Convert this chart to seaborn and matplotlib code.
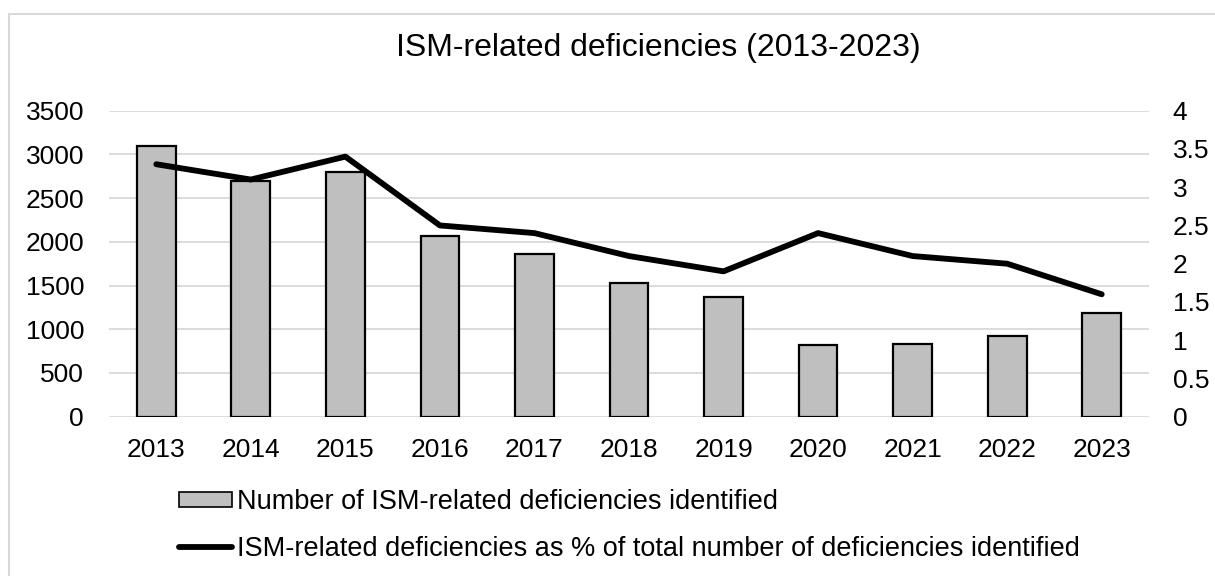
import matplotlib
matplotlib.use("Agg")
import matplotlib.pyplot as plt
from matplotlib.lines import Line2D
from matplotlib.patches import Patch
import seaborn as sns
import pandas as pd

# ISM-related deficiencies per year
years = ["2013", "2014", "2015", "2016", "2017", "2018",
         "2019", "2020", "2021", "2022", "2023"]
deficiency_counts = [3100, 2700, 2800, 2070, 1860, 1530, 1370, 825, 830, 925, 1190]
share_of_total_pct = [3.3, 3.1, 3.4, 2.5, 2.4, 2.1, 1.9, 2.4, 2.1, 2.0, 1.6]

left_ticks = [0, 500, 1000, 1500, 2000, 2500, 3000, 3500]
right_ticks = [0, 0.5, 1, 1.5, 2, 2.5, 3, 3.5, 4]
right_tick_labels = ["0", "0.5", "1", "1.5", "2", "2.5", "3", "3.5", "4"]

title = "ISM-related deficiencies (2013-2023)"
bar_label = "Number of ISM-related deficiencies identified"
line_label = "ISM-related deficiencies as % of total number of deficiencies identified"

df = pd.DataFrame({"year": years, "count": deficiency_counts, "pct": share_of_total_pct})

sns.set_theme(style="white")
plt.rcParams["font.family"] = ["Liberation Sans", "DejaVu Sans"]
plt.rcParams["text.color"] = "black"

W, H = 1215, 576
fig = plt.figure(figsize=(W / 100, H / 100), dpi=100)
ax = fig.add_axes([109 / W, 1 - 416.7 / H, (1149 - 109) / W, (416.7 - 110.7) / H])

grid_c = "#D9D9D9"
bar_c = "#BFBFBF"
tick_fs = 19

sns.barplot(data=df, x="year", y="count", ax=ax, color=bar_c, width=0.41,
            edgecolor="black", linewidth=1.6, saturation=1, zorder=3)
ax.set_ylim(0, 3500)
ax.set_xlim(-0.5, len(years) - 0.5)
ax.set_yticks(left_ticks)
ax.set_yticklabels([str(t) for t in left_ticks])
ax.yaxis.grid(True, color=grid_c, linewidth=1.3, zorder=0)
ax.set_axisbelow(True)
for s in ax.spines.values():
    s.set_visible(False)
ax.set_xlabel("")
ax.set_ylabel("")
ax.tick_params(axis="y", length=0, pad=18, labelsize=tick_fs, labelcolor="black")
ax.tick_params(axis="x", length=0, pad=15, labelsize=tick_fs, labelcolor="black")

ax2 = ax.twinx()
sns.lineplot(data=df, x="year", y="pct", ax=ax2, color="black", linewidth=4.2,
             sort=False, zorder=4)
for ln in ax2.lines:
    ln.set_solid_capstyle("round")
    ln.set_solid_joinstyle("round")
ax2.set_ylim(0, 4)
ax2.set_xlim(-0.5, len(years) - 0.5)
ax2.set_yticks(right_ticks)
ax2.set_yticklabels(right_tick_labels)
ax2.grid(False)
for s in ax2.spines.values():
    s.set_visible(False)
ax2.set_xlabel("")
ax2.set_ylabel("")
ax2.tick_params(axis="y", length=0, pad=17, labelsize=tick_fs, labelcolor="black")

fig.text(658 / W, 1 - 48 / H, title, ha="center", va="center", fontsize=23, color="black")

handles = [Patch(facecolor=bar_c, edgecolor="black", linewidth=1.2),
           Line2D([0], [0], color="black", linewidth=4.2, solid_capstyle="round")]
fig.legend(handles, [bar_label, line_label], loc="upper left",
           bbox_to_anchor=(179 / W, 1 - 489 / H), frameon=False, fontsize=19.5,
           handlelength=1.95, handleheight=0.5, handletextpad=0.2,
           labelspacing=0.76, borderaxespad=0, borderpad=0, labelcolor="black")

# chart frame edges
fig.add_artist(Line2D([8.5 / W, 1.0], [1 - 14 / H, 1 - 14 / H], color=grid_c, linewidth=1.5))
fig.add_artist(Line2D([8.5 / W, 8.5 / W], [0, 1 - 14 / H], color=grid_c, linewidth=1.5))

fig.savefig("out.png", dpi=100, facecolor="white")
